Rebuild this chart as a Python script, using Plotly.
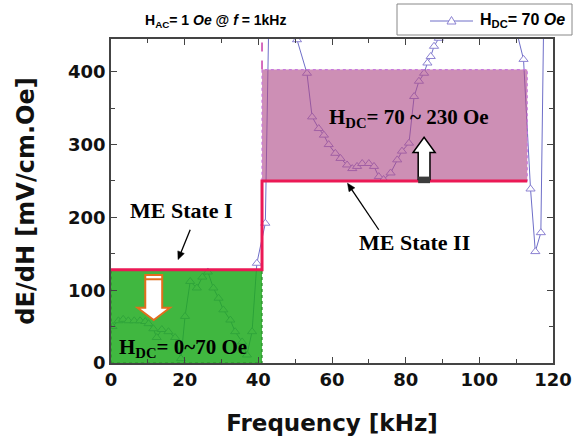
import math
import plotly.graph_objects as go

# ---------------- data ----------------
freq_khz = [0.4, 2.0, 3.3, 4.7, 6.3, 7.9, 9.3, 10.2, 11.5, 12.4, 13.8, 15.6, 17.4, 19.0,
            20.1, 21.5, 23.3, 24.8, 26.3, 27.8, 29.2, 30.5, 32.4, 33.7, 35.6, 36.9, 38.3,
            39.6, 41.9, 43.0, 47.0, 50.5, 53.2, 54.6, 56.4, 57.8, 59.1, 60.9, 62.3, 64.1,
            65.5, 66.8, 68.2, 70.0, 71.4, 72.7, 74.0, 75.9, 77.7, 79.0, 80.9, 82.3, 83.6,
            85.0, 85.9, 86.8, 87.7, 89.0, 95.0, 105.0, 112.0, 113.9, 115.2, 116.7, 117.6]
dEdH = [50, 58, 60, 58, 58, 58, 57, 54, 47, 35, 46, 43, 35, 6,
        64, 112, 103, 118, 125, 103, 89, 73, 59, 43, 29, 11, 43,
        137, 192, 520, 560, 444, 398, 338, 322, 313, 300, 288, 281, 272,
        267, 270, 274, 274, 270, 256, 252, 261, 279, 291, 302, 366, 387,
        398, 412, 421, 435, 446, 560, 560, 417, 239, 153, 179, 520]

state_freq = [0, 41, 113]          # ME state step boundaries (kHz)
state_level = [128, 250, 250]      # ME state levels (mV/cm.Oe)
state2_top = 403                   # top of H_DC = 70~230 Oe band

x_ticks = [0, 20, 40, 60, 80, 100, 120]
y_ticks = [0, 100, 200, 300, 400]

series_name = "<b>H<sub>DC</sub>= 70 <i>Oe</i></b>"

SERIF = "Liberation Serif"
SANS = "DejaVu Sans"
ARIAL = "Liberation Sans"

W, H = 578, 442
ML, MR, MT, MB = 111, 25, 39, 79
PW, PH = W - ML - MR, H - MT - MB
XR = [0, 120]
YR = [0, 445]
PX_X = PW / (XR[1] - XR[0])   # px per kHz
PX_Y = PH / (YR[1] - YR[0])   # px per unit

LINE_COL = "rgb(110,110,200)"
MARK_COL = "rgb(140,130,210)"


def px_to_paper(px, py):
    return (px - ML) / PW, (H - MB - py) / PH


fig = go.Figure()

# measured curve
fig.add_trace(go.Scatter(
    x=freq_khz, y=dEdH, mode="lines+markers", name=series_name,
    line=dict(color=LINE_COL, width=1),
    marker=dict(symbol="triangle-up", size=8, color="white",
                line=dict(color=MARK_COL, width=1)),
    showlegend=False,
))

# State I band (green)
x0, x1 = state_freq[0], state_freq[1]
fig.add_trace(go.Scatter(
    x=[x0, x1, x1, x0, x0], y=[0, 0, state_level[0], state_level[0], 0],
    mode="lines", fill="toself", fillcolor="rgba(30,170,30,0.85)",
    line=dict(color="rgb(40,140,40)", width=1.2, dash="dot"),
    showlegend=False, hoverinfo="skip"))

# State II band (pink)
x0, x1 = state_freq[1], state_freq[2]
fig.add_trace(go.Scatter(
    x=[x0, x1, x1, x0, x0], y=[state_level[1], state_level[1], state2_top, state2_top, state_level[1]],
    mode="lines", fill="toself", fillcolor="rgba(175,75,135,0.62)",
    line=dict(color="rgb(200,120,220)", width=1.2, dash="dot"),
    showlegend=False, hoverinfo="skip"))

# dashed pink line going up to the top from the band
fig.add_trace(go.Scatter(
    x=[state_freq[1], state_freq[1]], y=[state2_top, YR[1]], mode="lines",
    line=dict(color="rgb(200,60,170)", width=1.5, dash="dash"),
    showlegend=False, hoverinfo="skip"))

# ME state step line
fig.add_trace(go.Scatter(
    x=state_freq, y=state_level, mode="lines", line_shape="hv",
    line=dict(color="rgb(235,25,85)", width=3),
    showlegend=False, hoverinfo="skip"))


# --------- decorations ---------
def block_arrow(xc, y_base, y_neck, y_tip, half_shaft, half_head):
    return (f"M {xc-half_shaft},{y_base} L {xc-half_shaft},{y_neck} L {xc-half_head},{y_neck} "
            f"L {xc},{y_tip} L {xc+half_head},{y_neck} L {xc+half_shaft},{y_neck} "
            f"L {xc+half_shaft},{y_base} Z")


def thin_arrow(xt, yt, xh, yh, head_len=8, head_half=3.5):
    dx = (xh - xt) * PX_X
    dy = (yh - yt) * PX_Y
    L = math.hypot(dx, dy)
    ux, uy = dx / L, dy / L
    bx, by = -head_len * ux, -head_len * uy
    px, py = -uy * head_half, ux * head_half
    p1 = (xh + (bx + px) / PX_X, yh + (by + py) / PX_Y)
    p2 = (xh + (bx - px) / PX_X, yh + (by - py) / PX_Y)
    line_end = (xh + bx * 0.7 / PX_X, yh + by * 0.7 / PX_Y)
    return [
        dict(type="line", xref="x", yref="y", x0=xt, y0=yt, x1=line_end[0], y1=line_end[1],
             line=dict(color="black", width=1.3), layer="above"),
        dict(type="path", xref="x", yref="y",
             path=f"M {xh},{yh} L {p1[0]},{p1[1]} L {p2[0]},{p2[1]} Z",
             fillcolor="black", line=dict(color="black", width=0.5), layer="above"),
    ]


# legend (drawn by hand so the frame sits exactly like the reference)
lx0, ly0 = px_to_paper(397, 35)
lx1, ly1 = px_to_paper(572, 4)
sx0, sy = px_to_paper(430, 21)
sx1, _ = px_to_paper(473, 21)
mx, _ = px_to_paper(451.5, 21)
tri_half_w = 4.5 / PW
tri_up = 4.5 / PH
tri_dn = 3.0 / PH

shapes = [
    dict(type="path", xref="x", yref="y",
         path=block_arrow(85.0, 252, 289, 310, 1.6, 3.0),
         fillcolor="white", line=dict(color="black", width=1.5), layer="above"),
    dict(type="rect", xref="x", yref="y", x0=83.4, x1=86.6, y0=247, y1=256,
         fillcolor="rgb(60,60,60)", line=dict(width=0), layer="above"),
    dict(type="path", xref="x", yref="y",
         path=block_arrow(11.6, 121, 76, 59, 2.3, 4.4),
         fillcolor="white", line=dict(color="rgb(225,110,30)", width=2), layer="above"),
    dict(type="line", xref="x", yref="y", x0=9.3, x1=13.9, y0=115, y1=115,
         line=dict(color="rgb(225,110,30)", width=2), layer="above"),
    dict(type="rect", xref="paper", yref="paper", x0=lx0, x1=lx1, y0=ly0, y1=ly1,
         fillcolor="white", line=dict(color="#888", width=1), layer="above"),
    dict(type="line", xref="paper", yref="paper", x0=sx0, x1=sx1, y0=sy, y1=sy,
         line=dict(color=LINE_COL, width=1), layer="above"),
    dict(type="path", xref="paper", yref="paper",
         path=(f"M {mx - tri_half_w},{sy - tri_dn} L {mx + tri_half_w},{sy - tri_dn} "
               f"L {mx},{sy + tri_up} Z"),
         fillcolor="white", line=dict(color=MARK_COL, width=1), layer="above"),
]
shapes += thin_arrow(21.5, 183, 18.2, 142)
shapes += thin_arrow(72.7, 183, 64.2, 247)

tx, ty = px_to_paper(478, 21)
hx, hy = px_to_paper(143, 21)

annotations = [
    dict(x=19.2, y=210, xref="x", yref="y", text="<b>ME State I</b>", showarrow=False,
         font=dict(family=SERIF, size=22, color="black")),
    dict(x=82.3, y=166, xref="x", yref="y", text="<b>ME State II</b>", showarrow=False,
         font=dict(family=SERIF, size=22, color="black")),
    dict(x=81, y=337, xref="x", yref="y", text="<b>H<sub>DC</sub>= 70 ~ 230 Oe</b>",
         showarrow=False, font=dict(family=SERIF, size=21, color="black")),
    dict(x=19.5, y=21, xref="x", yref="y", text="<b>H<sub>DC</sub>= 0~70 Oe</b>",
         showarrow=False, font=dict(family=SERIF, size=21, color="black")),
    dict(x=hx, y=hy, xref="paper", yref="paper", xanchor="left", yanchor="middle",
         text="<b>H<sub>AC</sub>= 1 <i>Oe</i> @ <i>f</i> = 1kHz</b>", showarrow=False,
         font=dict(family=ARIAL, size=14, color="black")),
    dict(x=tx, y=ty, xref="paper", yref="paper", xanchor="left", yanchor="middle",
         text=series_name, showarrow=False,
         font=dict(family=ARIAL, size=16, color="black")),
]

axis_common = dict(
    showgrid=False, zeroline=False, showline=True, linecolor="#444", linewidth=1.5,
    mirror="allticks", ticks="inside", ticklen=6, tickwidth=1.2, tickcolor="#444",
    tickfont=dict(family=SANS, size=18, color="#111", weight="bold"),
    automargin=False,
)

fig.update_layout(
    width=W, height=H,
    margin=dict(l=ML, r=MR, t=MT, b=MB, autoexpand=False),
    paper_bgcolor="white", plot_bgcolor="white",
    showlegend=False,
    xaxis=dict(range=XR, tickvals=x_ticks,
               minor=dict(ticks="inside", dtick=10, ticklen=4, tickcolor="#444"),
               title=dict(text="Frequency [kHz]",
                          font=dict(family=SANS, size=23, color="#111", weight="bold"),
                          standoff=26),
               **axis_common),
    yaxis=dict(range=YR, tickvals=y_ticks,
               minor=dict(ticks="inside", dtick=50, ticklen=4, tickcolor="#444"),
               title=dict(text="dE/dH [mV/cm.Oe]",
                          font=dict(family=SANS, size=24, color="#111", weight="bold"),
                          standoff=27),
               **axis_common),
    shapes=shapes,
    annotations=annotations,
)

fig.write_html("out.html")
